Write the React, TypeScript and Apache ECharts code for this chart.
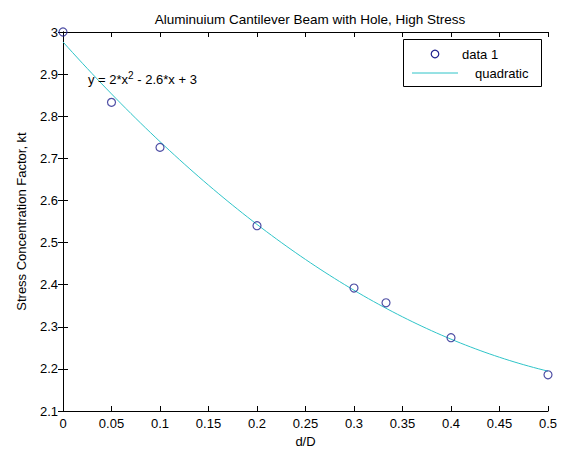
import React, { useEffect, useRef } from "react";
import * as echarts from "echarts";

const xValues = [0, 0.05, 0.1, 0.2, 0.3, 0.333, 0.4, 0.5];
const ktValues = [3.0, 2.833, 2.726, 2.54, 2.392, 2.357, 2.274, 2.186];
const xTicks = [0, 0.05, 0.1, 0.15, 0.2, 0.25, 0.3, 0.35, 0.4, 0.45, 0.5];
const yTicks = [2.1, 2.2, 2.3, 2.4, 2.5, 2.6, 2.7, 2.8, 2.9, 3];
const titleText = "Aluminuium Cantilever Beam with Hole, High Stress";
const legendNames = ["data 1", "quadratic"];

// least-squares quadratic fit computed from the data (as MATLAB basic fitting does)
function quadFit(xs: number[], ys: number[]) {
  let s0 = 0, s1 = 0, s2 = 0, s3 = 0, s4 = 0, t0 = 0, t1 = 0, t2 = 0;
  xs.forEach((x, i) => {
    const y = ys[i];
    s0 += 1; s1 += x; s2 += x * x; s3 += x * x * x; s4 += x * x * x * x;
    t0 += y; t1 += x * y; t2 += x * x * y;
  });
  const M = [
    [s4, s3, s2, t2],
    [s3, s2, s1, t1],
    [s2, s1, s0, t0],
  ];
  for (let i = 0; i < 3; i++) {
    for (let k = i + 1; k < 3; k++) {
      const f = M[k][i] / M[i][i];
      for (let j = i; j < 4; j++) M[k][j] -= f * M[i][j];
    }
  }
  const sol = [0, 0, 0];
  for (let i = 2; i >= 0; i--) {
    let v = M[i][3];
    for (let j = i + 1; j < 3; j++) v -= M[i][j] * sol[j];
    sol[i] = v / M[i][i];
  }
  return sol;
}

const FONT = "'Liberation Sans', Arial, sans-serif";

export default function App() {
  const ref = useRef<HTMLDivElement>(null);
  useEffect(() => {
    document.body.style.margin = "0";
    if (!ref.current) return;
    const chart = echarts.init(ref.current, null, { renderer: "svg" });
    const [a, b, c] = quadFit(xValues, ktValues);
    const xMin = xTicks[0];
    const xMax = xTicks[xTicks.length - 1];
    const fitData: number[][] = [];
    const n = 100;
    for (let i = 0; i <= n; i++) {
      const x = xMin + ((xMax - xMin) * i) / n;
      fitData.push([x, a * x * x + b * x + c]);
    }
    const markerColor = "#23238f";
    const lineColor = "#2fc4c8";
    const axisCommon = {
      axisLine: { show: true, lineStyle: { color: "#000", width: 1 } },
      axisTick: { show: true, inside: true, length: 5, lineStyle: { color: "#000" } },
      splitLine: { show: false },
    };
    chart.setOption({
      animation: false,
      backgroundColor: "#fff",
      textStyle: { fontFamily: FONT },
      title: {
        text: titleText,
        left: 305,
        top: 7,
        textAlign: "center",
        textStyle: { fontSize: 13.5, fontWeight: "normal", color: "#000", fontFamily: FONT },
      },
      grid: { left: 63, right: 15, top: 32, bottom: 44, containLabel: false },
      xAxis: [
        {
          type: "value",
          position: "bottom",
          min: xMin,
          max: xMax,
          interval: 0.05,
          name: "d/D",
          nameLocation: "middle",
          nameGap: 21,
          nameTextStyle: { fontSize: 13, color: "#000", fontFamily: FONT },
          axisLabel: { fontSize: 13, color: "#000", margin: 6, fontFamily: FONT },
          ...axisCommon,
        },
        {
          type: "value",
          position: "top",
          min: xMin,
          max: xMax,
          interval: 0.05,
          axisLabel: { show: false },
          ...axisCommon,
        },
      ],
      yAxis: [
        {
          type: "value",
          position: "left",
          min: yTicks[0],
          max: yTicks[yTicks.length - 1],
          interval: 0.1,
          name: "Stress Concentration Factor, kt",
          nameLocation: "middle",
          nameGap: 35,
          nameTextStyle: { fontSize: 13, color: "#000", fontFamily: FONT },
          axisLabel: {
            fontSize: 13,
            color: "#000",
            margin: 5,
            fontFamily: FONT,
            formatter: (v: number) => String(Math.round(v * 10) / 10),
          },
          ...axisCommon,
        },
        {
          type: "value",
          position: "right",
          min: yTicks[0],
          max: yTicks[yTicks.length - 1],
          interval: 0.1,
          axisLabel: { show: false },
          ...axisCommon,
        },
      ],
      series: [
        {
          name: legendNames[1],
          type: "line",
          data: fitData,
          showSymbol: false,
          lineStyle: { color: lineColor, width: 1 },
          z: 2,
        },
        {
          name: legendNames[0],
          type: "scatter",
          data: xValues.map((x, i) => [x, ktValues[i]]),
          symbol: "circle",
          symbolSize: 8,
          itemStyle: { color: "rgba(0,0,0,0)", borderColor: markerColor, borderWidth: 1.2 },
          clip: false,
          z: 3,
        },
      ],
      graphic: [
        {
          type: "text",
          left: 88,
          top: 70,
          z: 10,
          style: {
            text: "y = 2*x{sup|2} - 2.6*x + 3",
            font: `13px ${FONT}`,
            fill: "#000",
            rich: {
              sup: { fontSize: 10, fontFamily: FONT, fill: "#000", padding: [0, 0, 8, 0] },
            },
          },
        },
        {
          type: "group",
          z: 20,
          children: [
            {
              type: "rect",
              shape: { x: 403.5, y: 39.5, width: 138, height: 47 },
              style: { fill: "#fff", stroke: "#000", lineWidth: 1 },
            },
            {
              type: "circle",
              shape: { cx: 435, cy: 54, r: 3.8 },
              style: { fill: "#fff", stroke: markerColor, lineWidth: 1.2 },
            },
            {
              type: "text",
              x: 462,
              y: 54,
              style: {
                text: legendNames[0],
                font: `13px ${FONT}`,
                fill: "#000",
                verticalAlign: "middle",
              },
            },
            {
              type: "line",
              shape: { x1: 412, y1: 73, x2: 458, y2: 73 },
              style: { stroke: lineColor, lineWidth: 1 },
            },
            {
              type: "text",
              x: 475,
              y: 73,
              style: {
                text: legendNames[1],
                font: `13px ${FONT}`,
                fill: "#000",
                verticalAlign: "middle",
              },
            },
          ],
        },
      ],
    });
    return () => chart.dispose();
  }, []);
  return <div ref={ref} style={{ width: 563, height: 455 }} />;
}
